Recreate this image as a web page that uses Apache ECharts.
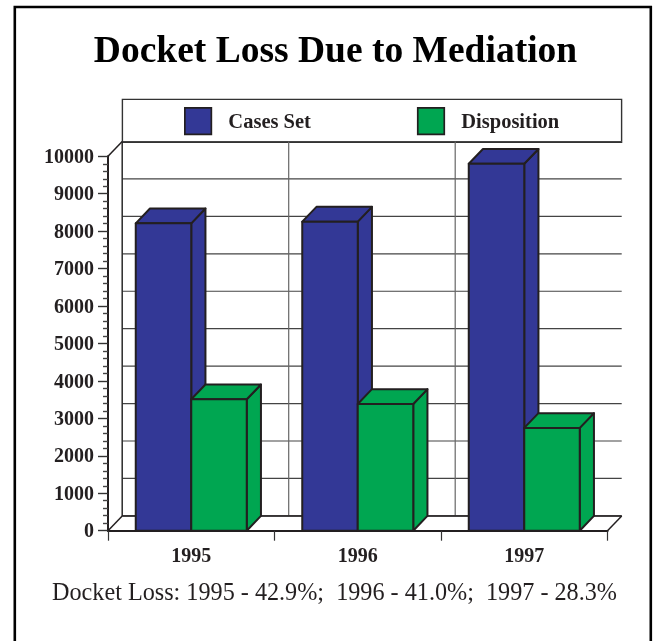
<!DOCTYPE html>
<html><head><meta charset="utf-8">
<style>html,body{margin:0;padding:0;background:#fff}#c{width:654px;height:641px}</style>
<script src="https://cdn.jsdelivr.net/npm/echarts@6/dist/echarts.min.js"></script>
</head><body><div id="c"></div>
<script>
const categories = ['1995','1996','1997'];
const casesSet = [8210,8255,9800];
const disposition = [3510,3385,2745];
const yTicks = [0,1000,2000,3000,4000,5000,6000,7000,8000,9000,10000];
const titleText = 'Docket Loss Due to Mediation';
const noteText = 'Docket Loss: 1995 - 42.9%;  1996 - 41.0%;  1997 - 28.3%';

const INK = '#231f20', DX = 14.2, DY = 14.8, FONT = '"Liberation Serif","Times New Roman",serif';
const chart = echarts.init(document.getElementById('c'), null, {renderer:'canvas'});

function barItem(side){
  return function(params, api){
    const i = api.value(0), v = api.value(1);
    const top = api.coord([i, v]), bot = api.coord([i, 0]);
    const w = api.size([1,0])[0] / 3;
    const x0 = side < 0 ? top[0]-w : top[0], x1 = x0 + w, y0 = top[1], y1 = bot[1];
    const style = {fill: api.visual('color'), stroke: INK, lineWidth: 2, lineJoin:'round'};
    return {type:'group', children:[
      {type:'polygon', shape:{points:[[x1,y0],[x1+DX,y0-DY],[x1+DX,y1-DY],[x1,y1]]}, style},
      {type:'polygon', shape:{points:[[x0,y0],[x0+DX,y0-DY],[x1+DX,y0-DY],[x1,y0]]}, style},
      {type:'rect', shape:{x:x0,y:y0,width:w,height:y1-y0}, style}
    ]};
  };
}
function wallItem(params, api){
  const v = api.value(0);
  const p = api.coord([0, v]);
  const yy = p[1] - DY;
  const sys = params.coordSys;
  const right = sys.x + sys.width;
  return {type:'line', shape:{x1:sys.x+DX,y1:yy,x2:right+DX,y2:yy},
    style:{stroke:'#444',lineWidth:1.2}};
}
function frameItem(params, api){
  const i = api.value(0);
  const sys = params.coordSys;
  const bw = sys.width / categories.length;
  const x = sys.x + bw*i + DX;
  return {type:'line', shape:{x1:x,y1:sys.y-DY,x2:x,y2:sys.y+sys.height-DY},
    style:{stroke:i===0?'#2a2a2a':'#666',lineWidth:i===0?1.5:1.2}};
}
function floorItem(params, api){
  const sys = params.coordSys, b = sys.y+sys.height, r = sys.x+sys.width, s={stroke:INK,lineWidth:1.5};
  return {type:'group', children:[
    {type:'line', shape:{x1:sys.x,y1:b,x2:sys.x+DX,y2:b-DY}, style:s},
    {type:'line', shape:{x1:r,y1:b,x2:r+DX,y2:b-DY}, style:s},
    {type:'line', shape:{x1:sys.x,y1:sys.y,x2:sys.x+DX,y2:sys.y-DY}, style:s},
    {type:'line', shape:{x1:sys.x+DX,y1:b-DY,x2:r+DX,y2:b-DY}, style:s}
  ]};
}

chart.setOption({
  animation:false,
  backgroundColor:'#fff',
  title:{text:titleText,left:330.5,textAlign:'center',top:28,
    textStyle:{fontFamily:FONT,fontWeight:'bold',fontSize:37.5,color:'#000'}},
  grid:{left:108,top:156.3,width:499.5,height:374.4,containLabel:false},
  legend:{left:179,top:102,itemWidth:26.5,itemHeight:26.5,itemGap:106,icon:'rect',
    data:['Cases Set','Disposition'],selectedMode:false,
    formatter:n=>'{t|'+n+'}',
    textStyle:{fontFamily:FONT,fontWeight:'bold',fontSize:20.5,color:INK,padding:[0,0,0,12],
      rich:{t:{fontFamily:FONT,fontWeight:'bold',fontSize:20.5,color:INK,padding:[3,0,0,0]}}},
    itemStyle:{borderColor:INK,borderWidth:1.7}},
  xAxis:{type:'category',data:categories,boundaryGap:true,
    axisLine:{lineStyle:{color:INK,width:2.2}},
    axisTick:{show:true,length:10,alignWithLabel:false,lineStyle:{color:'#333',width:1.2}},
    axisLabel:{fontFamily:FONT,fontWeight:'bold',fontSize:20,color:INK,margin:16},
    splitLine:{show:false}},
  yAxis:{type:'value',min:0,max:10000,interval:1000,
    axisLine:{show:true,lineStyle:{color:INK,width:2}},
    axisTick:{show:true,length:10,lineStyle:{color:'#333',width:1.4}},
    minorTick:{show:true,splitNumber:5,length:5,lineStyle:{color:'#444',width:1.4}},
    axisLabel:{fontFamily:FONT,fontWeight:'bold',fontSize:20,color:INK,margin:14,
      formatter:v=>'{n|'+v+'}',
      rich:{n:{fontFamily:FONT,fontWeight:'bold',fontSize:20,color:INK,padding:[3,0,0,0]}}},
    splitLine:{show:false}},
  graphic:[
    {type:'rect',z:0,silent:true,shape:{x:14.8,y:7,width:636,height:640},
      style:{fill:'none',stroke:'#000',lineWidth:2.6}},
    {type:'rect',z:1,silent:true,shape:{x:122.4,y:99.4,width:499.2,height:42.8},
      style:{fill:'#fff',stroke:'#333',lineWidth:1.4}},
    {type:'text',z:5,silent:true,left:52,top:581.5,
      style:{text:noteText,font:'24.2px '+FONT,fill:INK}}
  ],
  series:[
    {type:'custom',silent:true,z:1,renderItem:wallItem,data:yTicks.map(v=>[v]),encode:{y:0},clip:false},
    {type:'custom',silent:true,z:1,renderItem:frameItem,data:categories.map((c,i)=>[i]),encode:{x:0},clip:false},
    {type:'custom',silent:true,z:1,renderItem:floorItem,data:[[0]],clip:false},
    {type:'custom',name:'Cases Set',z:3,renderItem:barItem(-1),clip:false,
      itemStyle:{color:'#333896'},color:'#333896',
      data:casesSet.map((v,i)=>[i,v]),encode:{x:0,y:1}},
    {type:'custom',name:'Disposition',z:4,renderItem:barItem(1),clip:false,
      itemStyle:{color:'#00a651'},color:'#00a651',
      data:disposition.map((v,i)=>[i,v]),encode:{x:0,y:1}}
  ]
});
</script></body></html>
